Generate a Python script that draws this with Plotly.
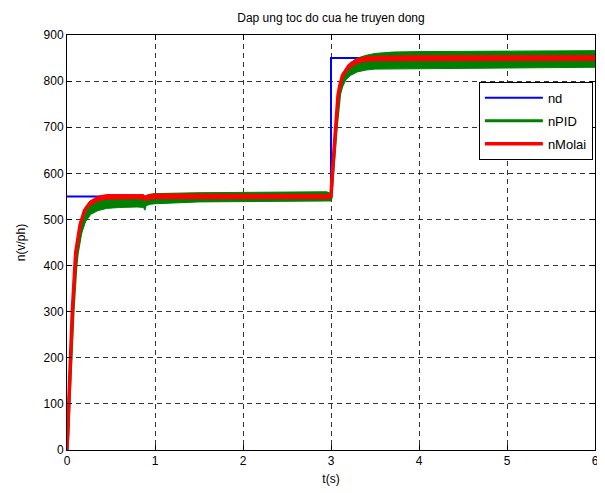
import plotly.graph_objects as go

# ---- data ----
t_nd = [0, 3, 3, 6]
nd = [550, 550, 850, 850]

# nPID: centre of the noisy green trace and half-height of its noise band
t_pid = [0, 0.012, 0.027, 0.045, 0.07, 0.1, 0.115, 0.16, 0.21, 0.27, 0.35, 0.45, 0.6,
         0.8, 0.87, 0.885, 0.9, 0.95, 1.0, 1.5, 2.0, 2.95, 3.0, 3.015, 3.04, 3.06,
         3.08, 3.1, 3.13, 3.17, 3.22, 3.3, 3.4, 3.5, 3.7, 4.0, 5.0, 6.0]
pid_mid = [0, 40, 120, 210, 305, 395, 425, 475, 505, 522, 531, 536, 538,
           539, 538, 532, 541, 544, 545, 548, 549, 550, 548, 580, 650, 700,
           745, 775, 797, 815, 826, 835, 840, 843, 845, 846, 847, 848]
pid_spread = [0, 1, 2, 3, 4, 5, 6, 8, 10, 11, 12, 12, 12,
              12, 12, 12, 11, 11, 11, 10, 10, 10, 8, 4, 4, 5,
              6, 8, 10, 12, 14, 15, 16, 17, 18, 18, 18, 18]

# nMolai: centre of the red trace and half-height of its noise band
t_mol = [0, 0.01, 0.025, 0.034, 0.06, 0.09, 0.1, 0.15, 0.2, 0.26, 0.35, 0.45, 0.8,
         0.87, 0.885, 0.92, 1.0, 2.0, 2.99, 3.0, 3.015, 3.04, 3.06, 3.08, 3.1,
         3.13, 3.2, 3.3, 3.4, 3.5, 4.0, 5.0, 6.0]
mol_mid = [0, 50, 130, 200, 300, 400, 430, 490, 520, 535, 545, 549, 550,
           549, 545, 548, 550, 550, 550, 551, 600, 672, 723, 770, 790,
           812, 832, 844, 848, 849, 850, 850, 850]
mol_spread = [0, 0, 1, 1, 1, 2, 2, 3, 4, 5, 5, 5, 5,
              5, 5, 5, 5, 5, 5, 3, 1, 1, 1, 2, 3,
              4, 5, 5, 5, 5, 5, 5, 5]

x_ticks = [0, 1, 2, 3, 4, 5, 6]
y_ticks = [0, 100, 200, 300, 400, 500, 600, 700, 800, 900]

FONT = "Liberation Sans, Arial, sans-serif"

# the page body has an 8px margin, so the figure is sized to fill the rest
PAGE_OFF = 8
W, H = 605 - PAGE_OFF, 493 - PAGE_OFF


def band(t, mid, spread):
    up = [m + s for m, s in zip(mid, spread)]
    lo = [m - s for m, s in zip(mid, spread)]
    return list(t) + list(t)[::-1], up + lo[::-1]


fig = go.Figure()

fig.add_trace(go.Scatter(x=t_nd, y=nd, mode="lines", name="nd", legendgroup="a",
                         line=dict(color="#0000FF", width=2)))

bx, by = band(t_pid, pid_mid, pid_spread)
fig.add_trace(go.Scatter(x=bx, y=by, mode="lines", fill="toself", legendgroup="b",
                         fillcolor="#008000", line=dict(color="#008000", width=1),
                         showlegend=False, hoverinfo="skip"))
fig.add_trace(go.Scatter(x=t_pid, y=pid_mid, mode="lines", name="nPID", legendgroup="b",
                         line=dict(color="#008000", width=3)))

bx, by = band(t_mol, mol_mid, mol_spread)
fig.add_trace(go.Scatter(x=bx, y=by, mode="lines", fill="toself", legendgroup="c",
                         fillcolor="#FF0000", line=dict(color="#FF0000", width=1),
                         showlegend=False, hoverinfo="skip"))
fig.add_trace(go.Scatter(x=t_mol, y=mol_mid, mode="lines", name="nMolai", legendgroup="c",
                         line=dict(color="#FF0000", width=3.5)))

axis_common = dict(
    showline=True, linecolor="black", linewidth=1, mirror="ticks",
    ticks="inside", ticklen=5, tickcolor="black", tickwidth=1,
    showgrid=True, gridcolor="rgba(0,0,0,0.8)", gridwidth=1, griddash="5px,4px",
    zeroline=False, automargin=False,
    tickfont=dict(family=FONT, size=12, color="black"),
)

fig.update_xaxes(range=[0, 6], tickvals=x_ticks, ticktext=[str(v) for v in x_ticks],
                 title=dict(text="t(s)", font=dict(family=FONT, size=12, color="black"),
                            standoff=7),
                 **axis_common)
fig.update_yaxes(range=[0, 900], tickvals=y_ticks, ticktext=[str(v) for v in y_ticks],
                 title=dict(text="n(v/ph)", font=dict(family=FONT, size=12, color="black"),
                            standoff=15),
                 **axis_common)

fig.update_layout(
    width=W, height=H,
    margin=dict(l=67 - PAGE_OFF, r=10, t=35 - PAGE_OFF, b=43),
    paper_bgcolor="white", plot_bgcolor="white",
    title=dict(text="Dap ung toc do cua he truyen dong",
               x=((67 + 595) / 2 - PAGE_OFF) / W, xanchor="center",
               y=1 - (18 - PAGE_OFF) / H, yanchor="middle", yref="container",
               font=dict(family=FONT, size=12, color="black")),
    legend=dict(x=0.996, xanchor="right", y=0.887, yanchor="top",
                bgcolor="white", bordercolor="black", borderwidth=1,
                font=dict(family=FONT, size=13, color="black"),
                itemwidth=58, tracegroupgap=3, traceorder="grouped"),
    showlegend=True,
)

fig.write_html("out.html")
